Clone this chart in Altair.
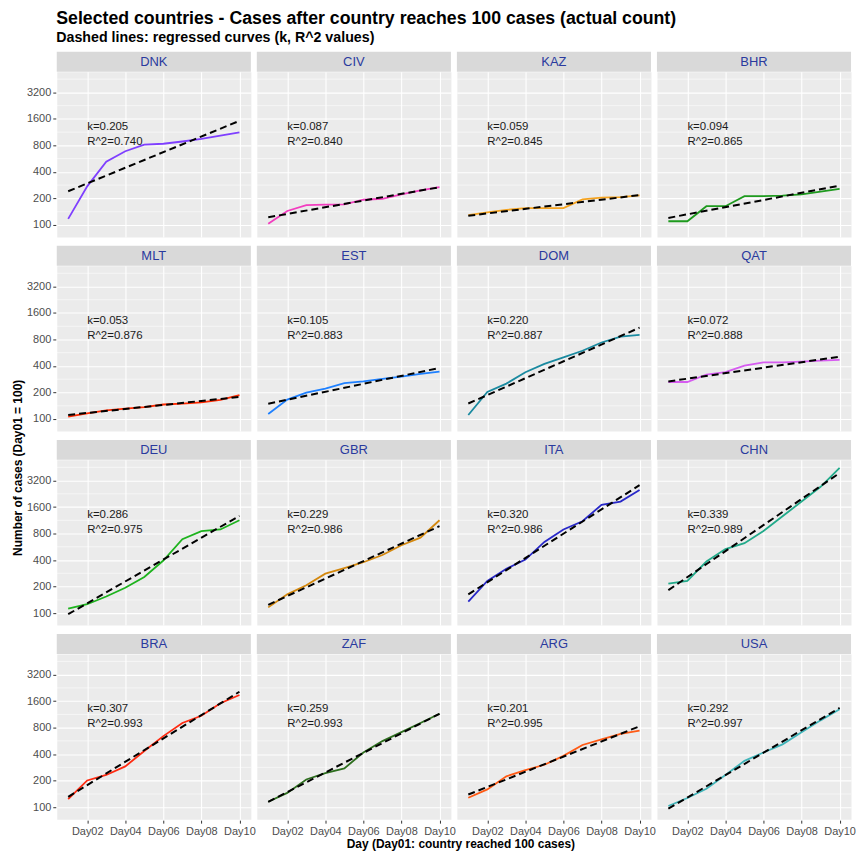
import altair as alt
import pandas as pd

FONT = "Liberation Sans"

countries = ["DNK", "CIV", "KAZ", "BHR", "MLT", "EST", "DOM", "QAT",
             "DEU", "GBR", "ITA", "CHN", "BRA", "ZAF", "ARG", "USA"]
line_colors = ["#7F3FFF", "#F23DBF", "#F5A31F", "#1E9A1E", "#FF2A00", "#1E80FF", "#1A8AA0", "#D65CF0",
               "#1DB31D", "#D4880E", "#2828C8", "#22AA8A", "#FF2A10", "#2D6E1E", "#FF5A14", "#40B5BA"]
days = list(range(1, 11))

dnk = [117, 274, 521, 686, 815, 835, 886, 950, 1034, 1125]
civ = [103, 144, 168, 170, 171, 193, 198, 222, 247, 268]
kaz = [129, 139, 148, 155, 155, 155, 195, 204, 207, 216]
bhr = [110, 110, 163, 163, 212, 212, 215, 222, 238, 257]
mlt = [106, 116, 125, 131, 136, 146, 149, 154, 165, 186]
est = [114, 166, 199, 221, 256, 267, 286, 303, 325, 346]
dom = [111, 203, 252, 340, 422, 501, 596, 739, 863, 901]
qat = [263, 263, 320, 340, 404, 440, 440, 448, 460, 468]
deu = [112, 126, 154, 194, 257, 395, 689, 854, 891, 1134]
gbr = [116, 163, 207, 280, 324, 378, 457, 590, 719, 1134]
ita = [135, 232, 318, 405, 643, 891, 1104, 1696, 1848, 2494]
chn = [216, 232, 385, 533, 622, 854, 1256, 1848, 2718, 4472]
bra = [123, 201, 232, 290, 435, 641, 904, 1092, 1514, 1878]
zaf = [115, 145, 206, 243, 276, 417, 563, 711, 904, 1150]
arg = [128, 159, 224, 264, 303, 382, 508, 588, 681, 742]
usa = [103, 127, 162, 232, 336, 417, 517, 711, 968, 1297]
series = [dnk, civ, kaz, bhr, mlt, est, dom, qat, deu, gbr, ita, chn, bra, zaf, arg, usa]

# regressed (dashed) curve end points, Day01 and Day10
fit_day1 = [241, 122, 127, 120, 111, 149, 150, 267, 97, 124, 163, 182, 131, 115, 139, 96]
fit_day10 = [1520, 268, 218, 279, 178, 380, 1089, 510, 1270, 971, 2838, 3899, 2046, 1150, 829, 1340]
k_values = [0.205, 0.087, 0.059, 0.094, 0.053, 0.105, 0.220, 0.072,
            0.286, 0.229, 0.320, 0.339, 0.307, 0.259, 0.201, 0.292]
r2_values = [0.740, 0.840, 0.845, 0.865, 0.876, 0.883, 0.887, 0.888,
             0.975, 0.986, 0.986, 0.989, 0.993, 0.993, 0.995, 0.997]

y_breaks = [100, 200, 400, 800, 1600, 3200]
minor_breaks = [141, 283, 566, 1131, 2263, 4525]
x_breaks = [2, 4, 6, 8, 10]
label_day = 2
label_cases = 1300

title_text = "Selected countries - Cases after country reaches 100 cases (actual count)"
subtitle_text = "Dashed lines: regressed curves (k, R^2 values)"
y_title = "Number of cases (Day01 = 100)"
x_title = "Day (Day01: country reached 100 cases)"

records = []
for i, c in enumerate(countries):
    for d, v in zip(days, series[i]):
        records.append({"country": c, "day": d, "cases": v, "kind": "obs", "txt": ""})
    records.append({"country": c, "day": 1, "cases": fit_day1[i], "kind": "fit", "txt": ""})
    records.append({"country": c, "day": 10, "cases": fit_day10[i], "kind": "fit", "txt": ""})
    records.append({"country": c, "day": label_day, "cases": label_cases, "kind": "label",
                    "txt": f"k={k_values[i]:.3f}\nR^2={r2_values[i]:.3f}"})
    for m in minor_breaks:
        records.append({"country": c, "day": 1, "cases": m, "kind": "minor", "txt": ""})
df = pd.DataFrame(records)

W = 195
H = 166
STRIP = 20

X = alt.X("day:Q",
          scale=alt.Scale(domain=[0.4, 10.6], nice=False, zero=False),
          axis=alt.Axis(values=x_breaks, title=None, labelFlush=False,
                        labelExpr="'Day' + (datum.value < 10 ? '0' : '') + datum.value"))
Y = alt.Y("cases:Q",
          scale=alt.Scale(type="log", base=2, domain=[73, 5500], nice=False),
          axis=alt.Axis(values=y_breaks, title=None, format="d", labelFlush=False))

minor = alt.Chart().transform_filter("datum.kind == 'minor'").mark_rule(
    color="white", strokeWidth=0.55).encode(y=Y)
obs = alt.Chart().transform_filter("datum.kind == 'obs'").mark_line(strokeWidth=1.8).encode(
    x=X, y=Y,
    color=alt.Color("country:N", scale=alt.Scale(domain=countries, range=line_colors), legend=None))
fit = alt.Chart().transform_filter("datum.kind == 'fit'").mark_line(
    color="black", strokeDash=[7, 4], strokeWidth=2).encode(x=X, y=Y)
txt = alt.Chart().transform_filter("datum.kind == 'label'").mark_text(
    align="left", baseline="middle", lineBreak="\n", fontSize=11.5, lineHeight=15,
    font=FONT, color="#1A1A1A").encode(x=X, y=Y, text="txt:N")
strip_bg = alt.Chart().transform_filter("datum.kind == 'label'").mark_rect(
    color="#D9D9D9").encode(x=alt.value(0), x2=alt.value(W), y=alt.value(-STRIP), y2=alt.value(0))
strip_txt = alt.Chart().transform_filter("datum.kind == 'label'").mark_text(
    color="#2A3A9E", fontSize=13, font=FONT, baseline="middle").encode(
    x=alt.value(W / 2), y=alt.value(-STRIP / 2), text="country:N")

panel = alt.layer(minor, obs, fit, txt, strip_bg, strip_txt).properties(width=W, height=H)

grid = panel.facet(
    facet=alt.Facet("country:N", sort=countries, title=None,
                    header=alt.Header(labels=False, labelExpr="''", labelFontSize=1,
                                      labelPadding=0, labelColor="transparent")),
    columns=4, spacing={"row": 6, "column": 4}, data=df)

ytitle = alt.Chart(pd.DataFrame({"t": [y_title]})).mark_text(
    angle=270, fontSize=12, fontWeight="bold", font=FONT, color="black", baseline="middle").encode(
    x=alt.value(6), y=alt.value(398), text="t:N").properties(
    width=12, height=760, view=alt.ViewBackground(fill="transparent", stroke="transparent"))

xtitle = alt.Chart(pd.DataFrame({"t": [x_title]})).mark_text(
    fontSize=12, fontWeight="bold", font=FONT, color="black", baseline="middle").encode(
    x=alt.value(406), y=alt.value(6), text="t:N").properties(
    width=780, height=12, view=alt.ViewBackground(fill="transparent", stroke="transparent"))

chart = alt.hconcat(ytitle, alt.vconcat(grid, xtitle, spacing=1), spacing=1).properties(
    title=alt.TitleParams(text=title_text, subtitle=subtitle_text, anchor="start",
                          fontSize=17.8, subtitleFontSize=14.3, fontWeight="bold",
                          subtitleFontWeight="bold", font=FONT, subtitleFont=FONT,
                          color="black", subtitleColor="black", dx=45, offset=5,
                          subtitlePadding=3),
    padding={"left": 3, "top": 0, "right": 0, "bottom": 0},
).configure_view(fill="#EBEBEB", stroke="transparent").configure_axis(
    labelFont=FONT, labelFontSize=11, labelColor="#4D4D4D", tickColor="#333333",
    tickSize=3, tickWidth=1, domain=False, gridColor="white", gridWidth=1.1, labelPadding=2
).configure_header(labels=False)

chart.save("out.html", embed_options={"renderer": "svg", "actions": False})
